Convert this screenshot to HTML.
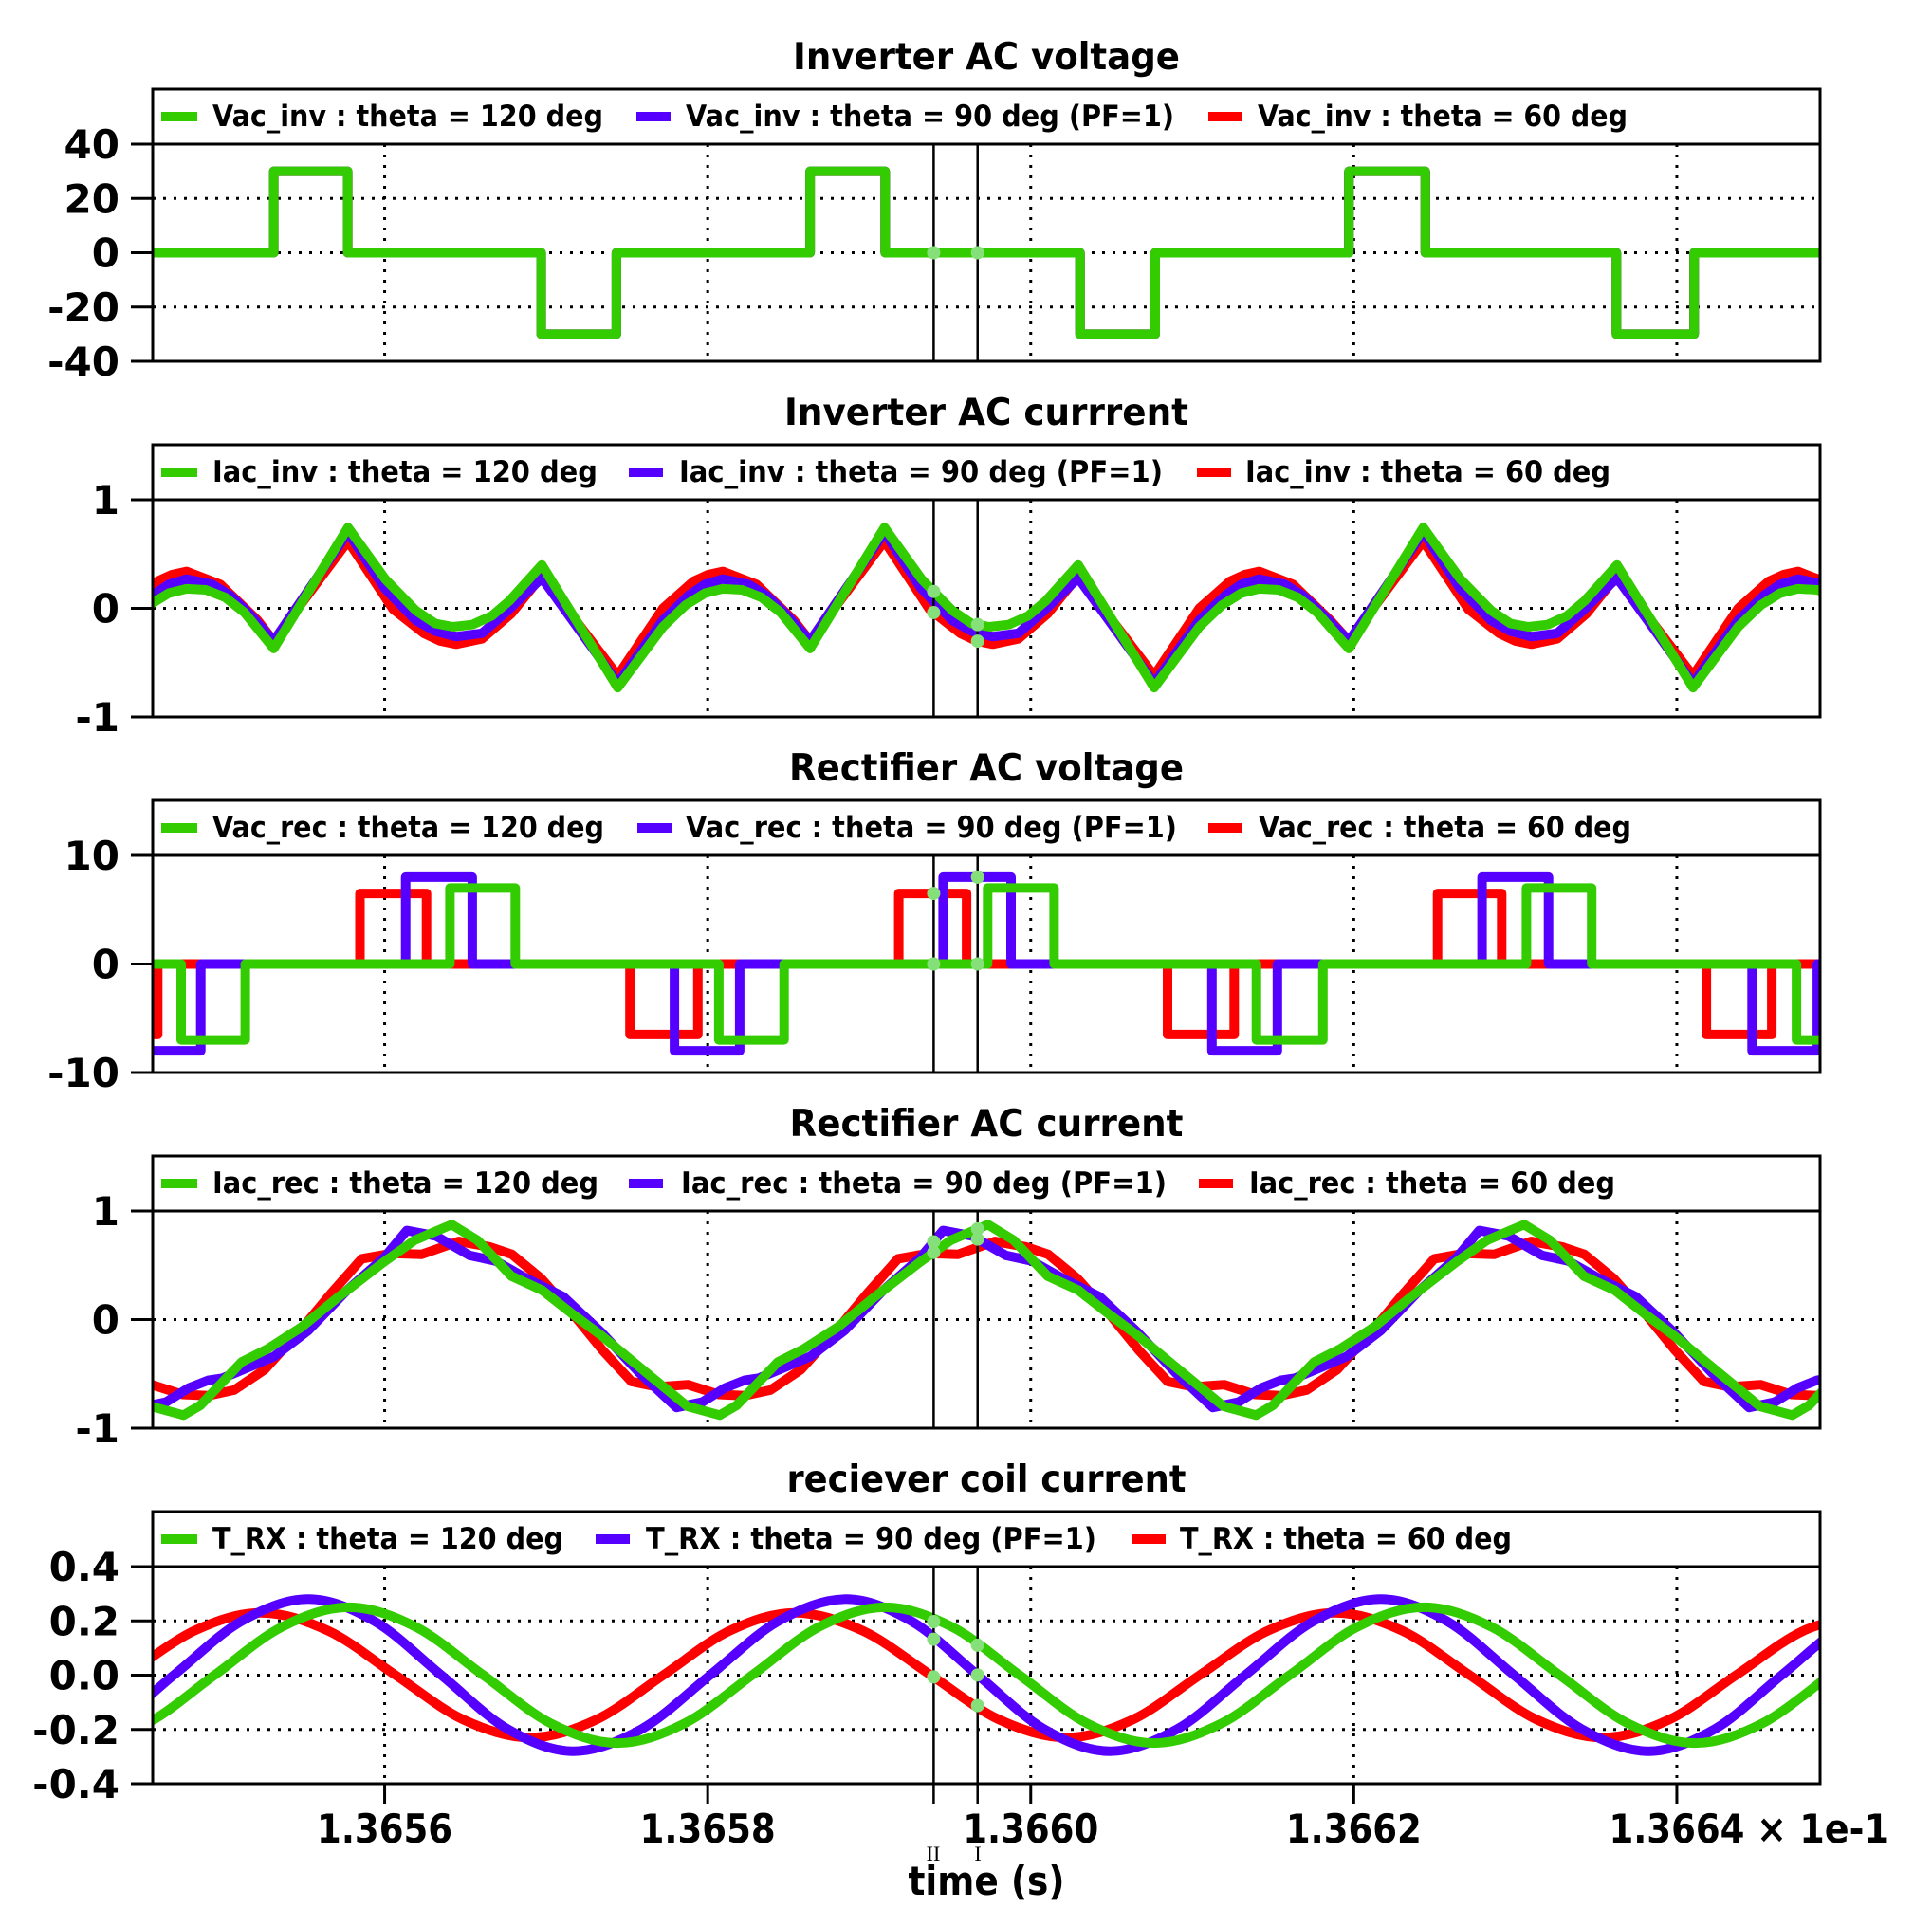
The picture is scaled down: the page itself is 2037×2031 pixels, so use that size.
<!DOCTYPE html>
<html>
<head>
<meta charset="utf-8">
<style>
html,body{margin:0;padding:0;background:#fff;}
svg{display:block;}
text{font-family:"DejaVu Sans","Liberation Sans",sans-serif;font-weight:bold;fill:#000;}
.title{font-size:39px;text-anchor:middle;}
.leg{font-size:31px;}
</style>
</head>
<body>
<svg id="chart" width="2037" height="2031" viewBox="0 0 2037 2031" xmlns="http://www.w3.org/2000/svg">
<rect x="0" y="0" width="2037" height="2031" fill="#fff"/>
<g id="grid-layer"></g>
<g id="series-layer"></g>
<g id="frame-layer"></g>

<text class="title" x="1040" y="73" textLength="408" lengthAdjust="spacingAndGlyphs">Inverter AC voltage</text>
<text class="title" x="1040" y="448" textLength="426" lengthAdjust="spacingAndGlyphs">Inverter AC currrent</text>
<text class="title" x="1040" y="823" textLength="416" lengthAdjust="spacingAndGlyphs">Rectifier AC voltage</text>
<text class="title" x="1040" y="1198" textLength="415" lengthAdjust="spacingAndGlyphs">Rectifier AC current</text>
<text class="title" x="1040" y="1573" textLength="421" lengthAdjust="spacingAndGlyphs">reciever coil current</text>

<g>
<rect x="161" y="94" width="1758" height="58" fill="none" stroke="#000" stroke-width="3"/>
<line x1="170" y1="123" x2="208" y2="123" stroke="#33cc00" stroke-width="10"/>
<text class="leg" x="224" y="133" textLength="412" lengthAdjust="spacingAndGlyphs">Vac_inv : theta = 120 deg</text>
<line x1="671" y1="123" x2="707" y2="123" stroke="#5500ff" stroke-width="10"/>
<text class="leg" x="723" y="133" textLength="515" lengthAdjust="spacingAndGlyphs">Vac_inv : theta = 90 deg (PF=1)</text>
<line x1="1274" y1="123" x2="1310" y2="123" stroke="#ff0000" stroke-width="10"/>
<text class="leg" x="1326" y="133" textLength="390" lengthAdjust="spacingAndGlyphs">Vac_inv : theta = 60 deg</text>
</g>
<g>
<rect x="161" y="469" width="1758" height="58" fill="none" stroke="#000" stroke-width="3"/>
<line x1="170" y1="498" x2="208" y2="498" stroke="#33cc00" stroke-width="10"/>
<text class="leg" x="224" y="508" textLength="406" lengthAdjust="spacingAndGlyphs">Iac_inv : theta = 120 deg</text>
<line x1="663" y1="498" x2="699" y2="498" stroke="#5500ff" stroke-width="10"/>
<text class="leg" x="716" y="508" textLength="510" lengthAdjust="spacingAndGlyphs">Iac_inv : theta = 90 deg (PF=1)</text>
<line x1="1262" y1="498" x2="1298" y2="498" stroke="#ff0000" stroke-width="10"/>
<text class="leg" x="1313" y="508" textLength="385" lengthAdjust="spacingAndGlyphs">Iac_inv : theta = 60 deg</text>
</g>
<g>
<rect x="161" y="844" width="1758" height="58" fill="none" stroke="#000" stroke-width="3"/>
<line x1="170" y1="873" x2="208" y2="873" stroke="#33cc00" stroke-width="10"/>
<text class="leg" x="224" y="883" textLength="413" lengthAdjust="spacingAndGlyphs">Vac_rec : theta = 120 deg</text>
<line x1="672" y1="873" x2="708" y2="873" stroke="#5500ff" stroke-width="10"/>
<text class="leg" x="723" y="883" textLength="518" lengthAdjust="spacingAndGlyphs">Vac_rec : theta = 90 deg (PF=1)</text>
<line x1="1274" y1="873" x2="1310" y2="873" stroke="#ff0000" stroke-width="10"/>
<text class="leg" x="1327" y="883" textLength="393" lengthAdjust="spacingAndGlyphs">Vac_rec : theta = 60 deg</text>
</g>
<g>
<rect x="161" y="1219" width="1758" height="58" fill="none" stroke="#000" stroke-width="3"/>
<line x1="170" y1="1248" x2="208" y2="1248" stroke="#33cc00" stroke-width="10"/>
<text class="leg" x="224" y="1258" textLength="407" lengthAdjust="spacingAndGlyphs">Iac_rec : theta = 120 deg</text>
<line x1="663" y1="1248" x2="699" y2="1248" stroke="#5500ff" stroke-width="10"/>
<text class="leg" x="718" y="1258" textLength="512" lengthAdjust="spacingAndGlyphs">Iac_rec : theta = 90 deg (PF=1)</text>
<line x1="1264" y1="1248" x2="1300" y2="1248" stroke="#ff0000" stroke-width="10"/>
<text class="leg" x="1317" y="1258" textLength="386" lengthAdjust="spacingAndGlyphs">Iac_rec : theta = 60 deg</text>
</g>
<g>
<rect x="161" y="1594" width="1758" height="58" fill="none" stroke="#000" stroke-width="3"/>
<line x1="170" y1="1623" x2="208" y2="1623" stroke="#33cc00" stroke-width="10"/>
<text class="leg" x="224" y="1633" textLength="370" lengthAdjust="spacingAndGlyphs">T_RX : theta = 120 deg</text>
<line x1="628" y1="1623" x2="664" y2="1623" stroke="#5500ff" stroke-width="10"/>
<text class="leg" x="681" y="1633" textLength="475" lengthAdjust="spacingAndGlyphs">T_RX : theta = 90 deg (PF=1)</text>
<line x1="1193" y1="1623" x2="1229" y2="1623" stroke="#ff0000" stroke-width="10"/>
<text class="leg" x="1244" y="1633" textLength="350" lengthAdjust="spacingAndGlyphs">T_RX : theta = 60 deg</text>
</g>

<text x="1040" y="1998" style="font-size:42px;text-anchor:middle" textLength="165" lengthAdjust="spacingAndGlyphs">time (s)</text>
<text x="984" y="1962" style="font-family:'Liberation Serif',serif;font-weight:normal;font-size:22px;text-anchor:middle">II</text>
<text x="1031" y="1962" style="font-family:'Liberation Serif',serif;font-weight:normal;font-size:22px;text-anchor:middle">I</text>
<text x="1852" y="1943" style="font-size:42px" textLength="140" lengthAdjust="spacingAndGlyphs">× 1e-1</text>
<g id="label-layer"></g>
</svg>
<script>
// ---- axis data (time in µs after 0.1365 s) ----
const xTicks = [60, 80, 100, 120, 140];
const xTickLabels = ["1.3656", "1.3658", "1.3660", "1.3662", "1.3664"];
const cursorTimes = [93.99, 96.71];

const p1Ticks = [40, 20, 0, -20, -40];
const p1Labels = ["40", "20", "0", "-20", "-40"];
const p2Ticks = [1, 0, -1];
const p2Labels = ["1", "0", "-1"];
const p3Ticks = [10, 0, -10];
const p3Labels = ["10", "0", "-10"];
const p4Ticks = [1, 0, -1];
const p4Labels = ["1", "0", "-1"];
const p5Ticks = [0.4, 0.2, 0, -0.2, -0.4];
const p5Labels = ["0.4", "0.2", "0.0", "-0.2", "-0.4"];

// ---- Vac_inv pulses (same for all three) ----
const vacInvStart = [53.13, 69.69, 86.34, 103.05, 119.70, 136.26];
const vacInvEnd = [57.71, 74.35, 90.99, 107.71, 124.43, 141.07];
const vacInvLevel = [30, -30, 30, -30, 30, -30];

// ---- Iac_inv ----
const iacInvGreenT = [44.03,45.43,46.63,47.73,48.93,50.13,51.33,
 53.13,57.73,60.03,61.93,63.13,64.23,65.43,66.63,67.73,69.73,74.43,77.23,78.63,79.83,80.93,82.13,83.33,84.53,
 86.34,90.94,93.24,95.14,96.34,97.44,98.64,99.84,100.94,102.94,107.64,110.44,111.84,113.04,114.14,115.34,116.54,117.74,
 119.70,124.30,126.60,128.50,129.70,130.80,132.00,133.20,134.30,136.30,141.00,143.80,145.20,146.40,147.50,148.70,149.90];
const iacInvGreenV = [-0.17,0.03,0.14,0.18,0.17,0.10,-0.04,
 -0.37,0.745,0.27,-0.02,-0.14,-0.17,-0.15,-0.07,0.07,0.40,-0.73,-0.17,0.03,0.14,0.18,0.17,0.10,-0.04,
 -0.37,0.745,0.27,-0.02,-0.14,-0.17,-0.15,-0.07,0.07,0.40,-0.73,-0.17,0.03,0.14,0.18,0.17,0.10,-0.04,
 -0.37,0.745,0.27,-0.02,-0.14,-0.17,-0.15,-0.07,0.07,0.40,-0.73,-0.17,0.03,0.14,0.18,0.17,0.10];
const iacInvBlueT = [44.03,45.63,46.63,47.73,49.33,50.43,51.63,
 53.13,57.73,60.03,61.93,63.13,64.43,66.03,67.63,69.73,74.43,77.23,78.83,79.83,80.93,82.53,83.63,84.83,
 86.34,90.94,93.24,95.14,96.34,97.64,99.24,100.84,102.94,107.64,110.44,112.04,113.04,114.14,115.74,116.84,118.04,
 119.70,124.30,126.60,128.50,129.70,131.00,132.60,134.20,136.30,141.00,143.80,145.40,146.40,147.50,149.10];
const iacInvBlueV = [-0.11,0.12,0.22,0.27,0.22,0.12,-0.05,
 -0.30,0.70,0.18,-0.11,-0.21,-0.26,-0.23,-0.02,0.28,-0.69,-0.11,0.12,0.22,0.27,0.22,0.12,-0.05,
 -0.30,0.70,0.18,-0.11,-0.21,-0.26,-0.23,-0.02,0.28,-0.69,-0.11,0.12,0.22,0.27,0.22,0.12,-0.05,
 -0.30,0.70,0.18,-0.11,-0.21,-0.26,-0.23,-0.02,0.28,-0.69,-0.11,0.12,0.22,0.27,0.22];
const iacInvRedT = [44.03,45.93,46.83,47.73,49.83,52.13,
 53.13,57.73,60.53,62.43,63.43,64.43,66.03,67.83,69.73,74.43,77.23,79.13,80.03,80.93,83.03,85.33,
 86.34,90.94,93.74,95.64,96.64,97.64,99.24,101.04,102.94,107.64,110.44,112.34,113.24,114.14,116.24,118.54,
 119.70,124.30,127.10,129.00,130.00,131.00,132.60,134.40,136.30,141.00,143.80,145.70,146.60,147.50,149.60];
const iacInvRedV = [0.0,0.25,0.31,0.34,0.22,-0.11,
 -0.30,0.62,-0.01,-0.23,-0.30,-0.33,-0.28,-0.05,0.30,-0.62,0.0,0.25,0.31,0.34,0.22,-0.11,
 -0.30,0.62,-0.01,-0.23,-0.30,-0.33,-0.28,-0.05,0.30,-0.62,0.0,0.25,0.31,0.34,0.22,-0.11,
 -0.30,0.62,-0.01,-0.23,-0.30,-0.33,-0.28,-0.05,0.30,-0.62,0.0,0.25,0.31,0.34,0.22];

// ---- Vac_rec pulses ----
const vacRecRedStart = [40.0, 58.47, 75.19, 91.83, 108.47, 125.19, 141.83];
const vacRecRedEnd = [45.95, 62.59, 79.39, 96.03, 112.60, 129.16, 145.88];
const vacRecRedLevel = [-6.5, 6.5, -6.5, 6.5, -6.5, 6.5, -6.5];
const vacRecBlueStart = [40.0, 61.30, 77.94, 94.58, 111.22, 127.94, 144.66];
const vacRecBlueEnd = [48.62, 65.42, 81.98, 98.78, 115.27, 132.06, 148.70];
const vacRecBlueLevel = [-8, 8, -8, 8, -8, 8, -8];
const vacRecGreenStart = [47.40, 64.04, 80.69, 97.33, 113.97, 130.69, 147.41];
const vacRecGreenEnd = [51.37, 68.09, 84.73, 101.45, 118.09, 134.73, 155.0];
const vacRecGreenLevel = [-7, 7, -7, 7, -7, 7, -7];

// ---- Iac_rec ----
const iacRecGreenT = [45.55,
 47.55,48.59,51.15,52.75,54.85,57.15,59.95,61.85,64.15,65.75,67.85,69.75,71.55,73.45,76.45,78.75,
 80.75,81.79,84.35,85.95,88.05,90.35,93.15,95.05,97.35,98.95,101.05,102.95,104.75,106.65,109.65,111.95,
 113.95,114.99,117.55,119.15,121.25,123.55,126.35,128.25,130.55,132.15,134.25,136.15,137.95,139.85,142.85,145.15,
 147.15,148.19,150.75];
const iacRecGreenV = [-0.80,
 -0.88,-0.79,-0.39,-0.27,-0.07,0.21,0.53,0.73,0.875,0.73,0.40,0.27,0.06,-0.15,-0.52,-0.80,
 -0.88,-0.79,-0.39,-0.27,-0.07,0.21,0.53,0.73,0.875,0.73,0.40,0.27,0.06,-0.15,-0.52,-0.80,
 -0.88,-0.79,-0.39,-0.27,-0.07,0.21,0.53,0.73,0.875,0.73,0.40,0.27,0.06,-0.15,-0.52,-0.80,
 -0.88,-0.79,-0.39];
const iacRecBlueT = [
 44.87,46.47,47.87,49.07,49.97,51.57,53.17,55.27,57.67,59.97,61.37,63.17,65.27,66.87,68.77,71.07,73.37,75.77,
 78.07,79.67,81.07,82.27,83.17,84.77,86.37,88.47,90.87,93.17,94.57,96.37,98.47,100.07,101.97,104.27,106.57,108.97,
 111.27,112.87,114.27,115.47,116.37,117.97,119.57,121.67,124.07,126.37,127.77,129.57,131.67,133.27,135.17,137.47,139.77,142.17,
 144.47,146.07,147.47,148.67,149.57];
const iacRecBlueV = [
 -0.81,-0.76,-0.63,-0.56,-0.54,-0.44,-0.34,-0.10,0.27,0.57,0.82,0.77,0.59,0.54,0.38,0.21,-0.11,-0.49,
 -0.81,-0.76,-0.63,-0.56,-0.54,-0.44,-0.34,-0.10,0.27,0.57,0.82,0.77,0.59,0.54,0.38,0.21,-0.11,-0.49,
 -0.81,-0.76,-0.63,-0.56,-0.54,-0.44,-0.34,-0.10,0.27,0.57,0.82,0.77,0.59,0.54,0.38,0.21,-0.11,-0.49,
 -0.81,-0.76,-0.63,-0.56,-0.54];
const iacRecRedT = [43.98,
 45.58,47.48,49.08,50.68,52.58,54.88,56.68,58.58,60.48,62.28,64.58,66.48,67.88,69.68,71.78,73.48,75.28,76.88,
 78.78,80.68,82.28,83.88,85.78,88.08,89.88,91.78,93.68,95.48,97.78,99.68,101.08,102.88,104.98,106.68,108.48,110.08,
 111.98,113.88,115.48,117.08,118.98,121.28,123.08,124.98,126.88,128.68,130.98,132.88,134.28,136.08,138.18,139.88,141.68,143.28,
 145.18,147.08,148.68,150.28];
const iacRecRedV = [-0.62,
 -0.60,-0.69,-0.70,-0.65,-0.46,-0.08,0.24,0.56,0.61,0.60,0.72,0.67,0.60,0.38,0.03,-0.28,-0.57,-0.62,
 -0.60,-0.69,-0.70,-0.65,-0.46,-0.08,0.24,0.56,0.61,0.60,0.72,0.67,0.60,0.38,0.03,-0.28,-0.57,-0.62,
 -0.60,-0.69,-0.70,-0.65,-0.46,-0.08,0.24,0.56,0.61,0.60,0.72,0.67,0.60,0.38,0.03,-0.28,-0.57,-0.62,
 -0.60,-0.69,-0.70,-0.65];

// ---- T_RX ----
const trxGreenT = [41.14,45.30,49.46,53.62,57.78,61.95,66.11,70.27,74.43,78.59,82.75,86.87,90.99,95.15,99.31,103.47,107.63,111.83,116.03,120.19,124.35,128.55,132.75,136.95,141.15,145.31,149.47];
const trxGreenV = [-0.25,-0.177,0,0.177,0.25,0.177,0,-0.177,-0.25,-0.177,0,0.177,0.25,0.177,0,-0.177,-0.25,-0.177,0,0.177,0.25,0.177,0,-0.177,-0.25,-0.177,0];
const trxBlueT = [38.70,42.82,46.94,51.11,55.27,59.39,63.51,67.60,71.68,75.92,80.15,84.35,88.55,92.64,96.72,100.81,104.89,109.09,113.28,117.48,121.68,125.80,129.92,134.09,138.25,142.37,146.49,150.69,154.89];
const trxBlueV = [-0.28,-0.198,0,0.198,0.28,0.198,0,-0.198,-0.28,-0.198,0,0.198,0.28,0.198,0,-0.198,-0.28,-0.198,0,0.198,0.28,0.198,0,-0.198,-0.28,-0.198,0,0.198,0.28];
const trxRedT = [44.04,48.20,52.36,56.52,60.68,64.85,69.01,73.13,77.25,81.34,85.42,89.62,93.82,98.02,102.21,106.34,110.46,114.66,118.86,123.02,127.18,131.30,135.42,139.55,143.67,147.83,151.99];
const trxRedV = [0,0.163,0.23,0.163,0,-0.163,-0.23,-0.163,0,0.163,0.23,0.163,0,-0.163,-0.23,-0.163,0,0.163,0.23,0.163,0,-0.163,-0.23,-0.163,0,0.163,0.23];

// ---- layout ----
const NS = "http://www.w3.org/2000/svg";
const X0 = 161, X1 = 1919, T0 = 45.64, T1 = 148.87;
const PH = 229;
const GREEN = "#33cc00", BLUE = "#5500ff", RED = "#ff0000", DOT = "#86e07a";
function xS(t) { return X0 + (t - T0) / (T1 - T0) * (X1 - X0); }
function mk(tag, attrs, parent) {
  const e = document.createElementNS(NS, tag);
  for (const k in attrs) e.setAttribute(k, attrs[k]);
  parent.appendChild(e);
  return e;
}
const svg = document.getElementById("chart");
const gridL = document.getElementById("grid-layer");
const serL = document.getElementById("series-layer");
const frameL = document.getElementById("frame-layer");
const labL = document.getElementById("label-layer");
const defs = mk("defs", {}, svg);

function interp(T, V, t) {
  for (let i = 0; i < T.length - 1; i++) {
    if (t >= T[i] && t <= T[i + 1]) return V[i] + (V[i + 1] - V[i]) * (t - T[i]) / (T[i + 1] - T[i]);
  }
  return 0;
}
function pulseVal(S, E, L, t) {
  for (let i = 0; i < S.length; i++) if (t >= S[i] && t <= E[i]) return L[i];
  return 0;
}

function panel(idx, top, ymin, ymax, ticks, labels) {
  const bottom = top + PH;
  const yS = v => bottom - (v - ymin) / (ymax - ymin) * PH;
  const clip = mk("clipPath", { id: "clip" + idx }, defs);
  mk("rect", { x: X0, y: top, width: X1 - X0, height: PH }, clip);
  const g = mk("g", { "clip-path": "url(#clip" + idx + ")" }, serL);
  
  
  xTicks.forEach(t => {
    const l = mk("line", { x1: xS(t), x2: xS(t), y1: top, y2: bottom, stroke: "#000", "stroke-width": 3, "stroke-dasharray": "3 8" }, gridL);
    
    
  });
  ticks.forEach((v, i) => {
    if (v !== ymin && v !== ymax) {
      const l = mk("line", { x1: X0, x2: X1, y1: yS(v), y2: yS(v), stroke: "#000", "stroke-width": 3, "stroke-dasharray": "3 8" }, gridL);
      
      
    }
    const tk = mk("line", { x1: 138, x2: X0, y1: yS(v), y2: yS(v), stroke: "#000", "stroke-width": 3 }, frameL);
    
    
    const tx = mk("text", { x: 126, y: yS(v) + 15, "text-anchor": "end", style: "font-size:42px" }, labL);
    tx.textContent = labels[i];
    
    
  });
  const fr = mk("rect", { x: X0, y: top, width: X1 - X0, height: PH, fill: "none", stroke: "#000", "stroke-width": 3 }, frameL);
  
  
  cursorTimes.forEach(t => {
    const c = mk("line", { x1: xS(t), x2: xS(t), y1: top, y2: idx === 5 ? bottom + 21 : bottom, stroke: "#000", "stroke-width": 2.5 }, frameL);
    
    
  });
  return { g, yS };
}

function polyPath(T, V, yS) {
  return T.map((t, i) => (i ? "L" : "M") + xS(t).toFixed(1) + "," + yS(V[i]).toFixed(1)).join("");
}
function smoothPath(T, V, yS) {
  const P = T.map((t, i) => [xS(t), yS(V[i])]);
  let d = "M" + P[0][0].toFixed(1) + "," + P[0][1].toFixed(1);
  for (let i = 0; i < P.length - 1; i++) {
    const p0 = P[i - 1] || P[i], p1 = P[i], p2 = P[i + 1], p3 = P[i + 2] || P[i + 1];
    const c1 = [p1[0] + (p2[0] - p0[0]) / 6, p1[1] + (p2[1] - p0[1]) / 6];
    const c2 = [p2[0] - (p3[0] - p1[0]) / 6, p2[1] - (p3[1] - p1[1]) / 6];
    d += "C" + c1[0].toFixed(1) + "," + c1[1].toFixed(1) + " " + c2[0].toFixed(1) + "," + c2[1].toFixed(1) + " " + p2[0].toFixed(1) + "," + p2[1].toFixed(1);
  }
  return d;
}
function pulsePath(S, E, L, yS) {
  let d = "M" + (X0 - 20) + "," + yS(0);
  S.forEach((s, i) => {
    d += "L" + xS(s).toFixed(1) + "," + yS(0) + "L" + xS(s).toFixed(1) + "," + yS(L[i]) +
         "L" + xS(E[i]).toFixed(1) + "," + yS(L[i]) + "L" + xS(E[i]).toFixed(1) + "," + yS(0);
  });
  d += "L" + (X1 + 20) + "," + yS(0);
  return d;
}
function drawSeries(g, d, color, name) {
  const p = mk("path", { d: d, fill: "none", stroke: color, "stroke-width": 10, "stroke-linejoin": "round", "stroke-linecap": "butt" }, g);
  
  
}
function drawDots(g, vals, yS) {
  vals.forEach((v, i) => {
    const c = mk("circle", { cx: xS(cursorTimes[i % 2]), cy: yS(v), r: 7, fill: DOT }, frameL);
    
    
  });
}

let P = panel(1, 152, -40, 40, p1Ticks, p1Labels);
drawSeries(P.g, pulsePath(vacInvStart, vacInvEnd, vacInvLevel, P.yS), RED, "vac-inv-60deg-line");
drawSeries(P.g, pulsePath(vacInvStart, vacInvEnd, vacInvLevel, P.yS), BLUE, "vac-inv-90deg-line");
drawSeries(P.g, pulsePath(vacInvStart, vacInvEnd, vacInvLevel, P.yS), GREEN, "vac-inv-120deg-line");
drawDots(P.g, cursorTimes.map(t => pulseVal(vacInvStart, vacInvEnd, vacInvLevel, t)), P.yS);

P = panel(2, 527, -1, 1, p2Ticks, p2Labels);
drawSeries(P.g, polyPath(iacInvRedT, iacInvRedV, P.yS), RED, "iac-inv-60deg-line");
drawSeries(P.g, polyPath(iacInvBlueT, iacInvBlueV, P.yS), BLUE, "iac-inv-90deg-line");
drawSeries(P.g, polyPath(iacInvGreenT, iacInvGreenV, P.yS), GREEN, "iac-inv-120deg-line");
drawDots(P.g, [interp(iacInvGreenT, iacInvGreenV, cursorTimes[0]), interp(iacInvGreenT, iacInvGreenV, cursorTimes[1]),
  interp(iacInvRedT, iacInvRedV, cursorTimes[0]), interp(iacInvRedT, iacInvRedV, cursorTimes[1])], P.yS);

P = panel(3, 902, -10, 10, p3Ticks, p3Labels);
drawSeries(P.g, pulsePath(vacRecRedStart, vacRecRedEnd, vacRecRedLevel, P.yS), RED, "vac-rec-60deg-line");
drawSeries(P.g, pulsePath(vacRecBlueStart, vacRecBlueEnd, vacRecBlueLevel, P.yS), BLUE, "vac-rec-90deg-line");
drawSeries(P.g, pulsePath(vacRecGreenStart, vacRecGreenEnd, vacRecGreenLevel, P.yS), GREEN, "vac-rec-120deg-line");
drawDots(P.g, [pulseVal(vacRecRedStart, vacRecRedEnd, vacRecRedLevel, cursorTimes[0]), pulseVal(vacRecBlueStart, vacRecBlueEnd, vacRecBlueLevel, cursorTimes[1]),
  pulseVal(vacRecGreenStart, vacRecGreenEnd, vacRecGreenLevel, cursorTimes[0]), pulseVal(vacRecGreenStart, vacRecGreenEnd, vacRecGreenLevel, cursorTimes[1])], P.yS);

P = panel(4, 1277, -1, 1, p4Ticks, p4Labels);
drawSeries(P.g, polyPath(iacRecRedT, iacRecRedV, P.yS), RED, "iac-rec-60deg-line");
drawSeries(P.g, polyPath(iacRecBlueT, iacRecBlueV, P.yS), BLUE, "iac-rec-90deg-line");
drawSeries(P.g, polyPath(iacRecGreenT, iacRecGreenV, P.yS), GREEN, "iac-rec-120deg-line");
drawDots(P.g, [interp(iacRecGreenT, iacRecGreenV, cursorTimes[0]), interp(iacRecGreenT, iacRecGreenV, cursorTimes[1]),
  interp(iacRecBlueT, iacRecBlueV, cursorTimes[0]), interp(iacRecBlueT, iacRecBlueV, cursorTimes[1])], P.yS);

P = panel(5, 1652, -0.4, 0.4, p5Ticks, p5Labels);
drawSeries(P.g, smoothPath(trxRedT, trxRedV, P.yS), RED, "trx-60deg-line");
drawSeries(P.g, smoothPath(trxBlueT, trxBlueV, P.yS), BLUE, "trx-90deg-line");
drawSeries(P.g, smoothPath(trxGreenT, trxGreenV, P.yS), GREEN, "trx-120deg-line");
drawDots(P.g, [interp(trxGreenT, trxGreenV, cursorTimes[0]), interp(trxGreenT, trxGreenV, cursorTimes[1]),
  interp(trxBlueT, trxBlueV, cursorTimes[0]), interp(trxBlueT, trxBlueV, cursorTimes[1]),
  interp(trxRedT, trxRedV, cursorTimes[0]), interp(trxRedT, trxRedV, cursorTimes[1])], P.yS);

xTicks.forEach((t, i) => {
  const tk = mk("line", { x1: xS(t), x2: xS(t), y1: 1881, y2: 1902, stroke: "#000", "stroke-width": 3 }, frameL);
  
  
  const tx = mk("text", { x: xS(t), y: 1943, "text-anchor": "middle", style: "font-size:42px", textLength: 143, lengthAdjust: "spacingAndGlyphs" }, labL);
  tx.textContent = xTickLabels[i];
  
  
});
</script>
</body>
</html>
